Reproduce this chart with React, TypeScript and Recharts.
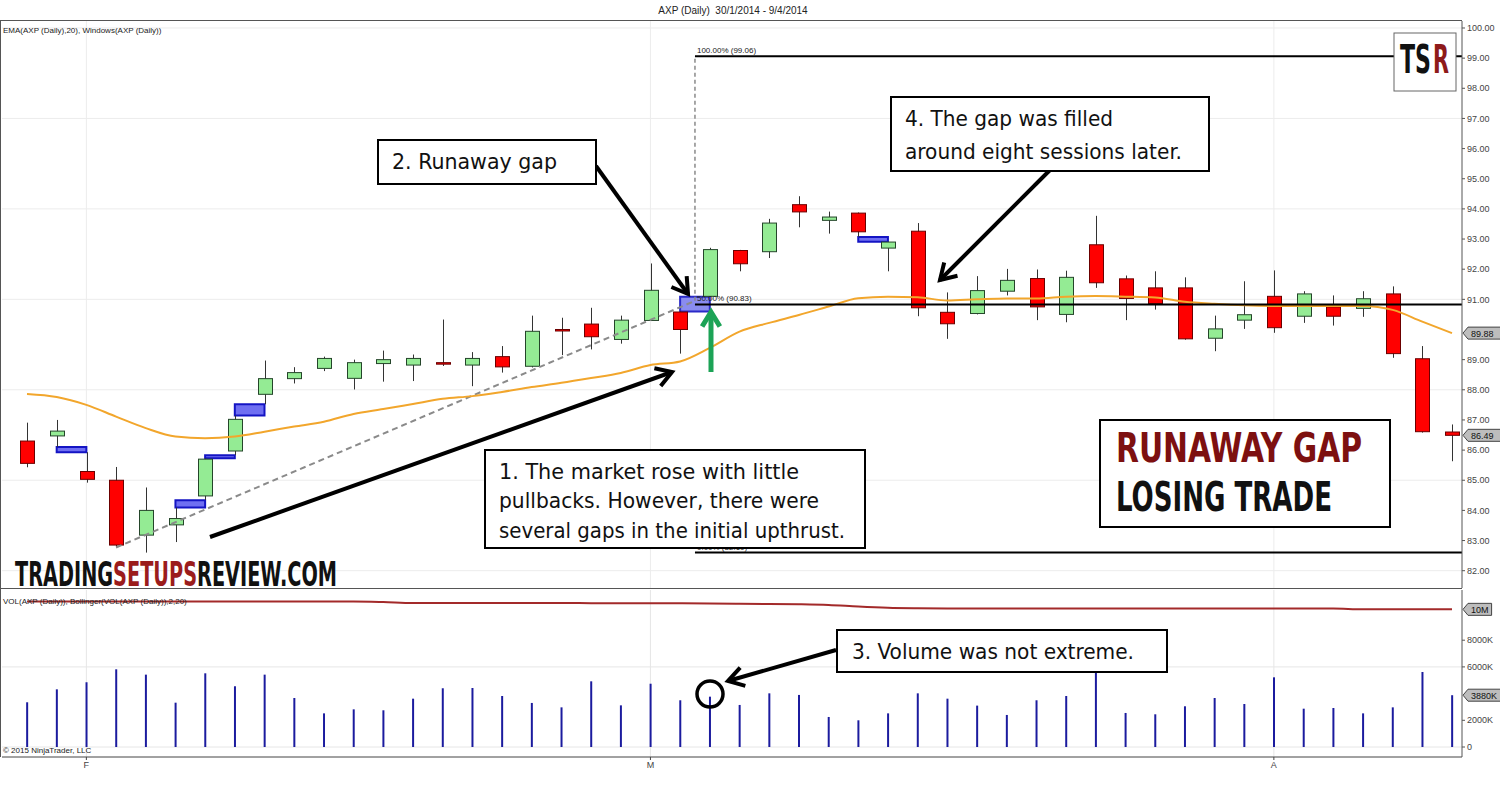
import React from 'react';
import { ComposedChart, Bar, Line, XAxis, YAxis, ReferenceLine, ReferenceArea, CartesianGrid } from 'recharts';

// trading days 30/1/2014 - 9/4/2014
const dates = [
  '30/1', '31/1',
  '3/2', '4/2', '5/2', '6/2', '7/2', '10/2', '11/2', '12/2', '13/2', '14/2',
  '18/2', '19/2', '20/2', '21/2', '24/2', '25/2', '26/2', '27/2', '28/2',
  '3/3', '4/3', '5/3', '6/3', '7/3', '10/3', '11/3', '12/3', '13/3', '14/3',
  '17/3', '18/3', '19/3', '20/3', '21/3', '24/3', '25/3', '26/3', '27/3', '28/3', '31/3',
  '1/4', '2/4', '3/4', '4/4', '7/4', '8/4', '9/4',
];

const opens = [
  86.30, 86.47, 85.29, 85.00, 83.18, 83.52, 84.48, 85.97, 87.85, 88.37,
  88.71, 88.38, 88.87, 88.82, 88.90, 88.82, 89.10, 88.78, 90.00, 90.18,
  89.67, 90.30, 90.58, 91.10, 92.62, 92.58, 94.14, 93.62, 93.86, 92.70,
  93.26, 90.57, 90.53, 91.27, 91.69, 90.50, 92.81, 91.68, 91.38, 91.38,
  89.71, 90.31, 91.10, 90.44, 90.75, 90.70, 91.18, 89.03, 86.60,
];
const highs = [
  86.91, 87.00, 85.93, 85.44, 84.76, 84.10, 85.73, 87.15, 88.97, 88.75,
  89.10, 89.00, 89.30, 89.17, 90.33, 89.25, 89.45, 90.46, 90.39, 90.72,
  90.46, 92.19, 90.60, 92.71, 92.64, 93.67, 94.42, 93.91, 93.88, 92.91,
  93.53, 91.23, 91.77, 92.01, 91.99, 91.95, 93.77, 91.79, 91.93, 91.73,
  90.46, 91.60, 91.96, 91.27, 91.13, 91.27, 91.43, 89.45, 86.85,
];
const lows = [
  85.43, 86.10, 84.92, 82.77, 82.60, 82.95, 84.34, 85.83, 87.52, 88.21,
  88.62, 88.01, 88.27, 88.29, 88.79, 88.12, 88.57, 88.74, 89.15, 89.34,
  89.53, 90.28, 89.20, 91.09, 91.93, 92.37, 93.39, 93.18, 93.07, 91.93,
  90.44, 89.69, 90.50, 91.13, 90.31, 90.24, 91.38, 90.31, 90.66, 89.66,
  89.28, 90.02, 89.89, 90.22, 90.13, 90.42, 89.06, 86.58, 85.63,
];
const closes = [
  85.56, 86.63, 85.03, 82.85, 84.00, 83.73, 85.70, 87.02, 88.37, 88.57,
  89.04, 88.90, 89.00, 89.04, 88.87, 89.04, 88.76, 89.94, 89.96, 89.76,
  90.31, 91.30, 90.00, 92.65, 92.18, 93.53, 93.90, 93.73, 93.24, 92.90,
  90.72, 90.19, 91.29, 91.63, 90.75, 91.73, 91.55, 91.03, 90.86, 89.69,
  90.02, 90.49, 90.06, 91.18, 90.44, 91.02, 89.20, 86.61, 86.49,
];
const ema20 = [
  87.86, 87.76, 87.50, 87.11, 86.73, 86.45, 86.39, 86.45, 86.61, 86.78,
  86.94, 87.20, 87.36, 87.53, 87.70, 87.79, 87.93, 88.09, 88.23, 88.39,
  88.56, 88.82, 88.94, 89.39, 89.93, 90.22, 90.48, 90.76, 91.04, 91.09,
  91.07, 90.96, 91.00, 91.03, 91.03, 91.09, 91.11, 91.09, 91.06, 90.92,
  90.85, 90.80, 90.78, 90.78, 90.78, 90.78, 90.65, 90.26, 89.88,
];
const volumeK = [
  3350, 4320, 4850, 5820, 5420, 3320, 5520, 4550, 5420, 3670,
  2520, 2820, 2750, 3620, 4400, 4420, 3820, 3300, 2970, 4920,
  3120, 4740, 3500, 3770, 3150, 4020, 3900, 2250, 2000, 2520,
  4020, 3620, 3100, 2400, 3500, 3820, 5640, 2550, 2450, 3050,
  3670, 3220, 5220, 2870, 2920, 2520, 2970, 5620, 3880,
];
const bollingerUpperK = [
  10900, 10900, 10900, 10900, 10900, 10900, 10900, 10900, 10900, 10900,
  10900, 10900, 10860, 10790, 10790, 10790, 10790, 10790, 10790, 10770,
  10760, 10760, 10760, 10750, 10730, 10710, 10690, 10640, 10520, 10430,
  10390, 10370, 10370, 10370, 10370, 10370, 10370, 10370, 10370, 10370,
  10370, 10370, 10370, 10370, 10370, 10310, 10310, 10310, 10310,
];

const priceTicks = [82, 83, 84, 85, 86, 87, 88, 89, 91, 92, 93, 94, 95, 96, 97, 98, 99, 100];
const priceGrid = [82, 85, 88, 91, 94, 97, 100];
const volumeTicks = [0, 2000, 6000, 8000];
const volumeGrid = [0, 6000];
const monthStarts = ['3/2', '3/3', '1/4'];
const monthLabels = ['F', 'M', 'A'];
const gapDays = ['3/2', '7/2', '10/2', '11/2', '5/3', '13/3'];
const runawayGapDay = '5/3';
const swingLowDay = '4/2';
const fibLevels = [
  { label: '100.00%', value: 99.06 },
  { label: '50.00%', value: 90.83 },
  { label: '0.00%', value: 82.6 },
];

const rows = dates.map((date, i) => ({
  x: i,
  date,
  open: opens[i],
  high: highs[i],
  low: lows[i],
  close: closes[i],
  ema: ema20[i],
  vol: volumeK[i],
  bb: bollingerUpperK[i],
}));

const monthIdx = monthStarts.map((d) => dates.indexOf(d));
const gaps = gapDays.map((d) => {
  const i = dates.indexOf(d);
  const up = lows[i] > highs[i - 1];
  return {
    from: i - 1,
    to: i,
    lo: up ? highs[i - 1] : highs[i],
    hi: up ? lows[i] : lows[i - 1],
    hot: d === runawayGapDay,
  };
});
const swingIdx = dates.indexOf(swingLowDay);
const fibAnchorX = dates.indexOf(runawayGapDay) - 0.5;

const X_DOMAIN: [number, number] = [-0.842, 48.337];
const PRICE_DOMAIN: [number, number] = [81.426, 100.232];
const VOL_DOMAIN: [number, number] = [-749, 11760];
const FONT = "'Liberation Sans', Arial, sans-serif";
const NARROW = "'Liberation Sans Narrow', 'DejaVu Sans Condensed', 'Liberation Sans', sans-serif";

const fmtK = (v: number) => (v >= 10000 ? `${Math.round(v / 1000)}M` : v === 0 ? '0' : `${Math.round(v)}K`);

const Candle = (props: any) => {
  const { x, y, width, height, payload } = props;
  if (x == null || !payload) return null;
  const { open, close, high, low } = payload;
  const top0 = Math.min(y, y + height);
  const h = Math.abs(height);
  const k = h / (high - low);
  const py = (v: number) => top0 + (high - v) * k;
  const cx = Math.round(x + width / 2) + 0.5;
  const up = close >= open;
  const bt = py(Math.max(open, close));
  const bb = py(Math.min(open, close));
  return (
    <g>
      <line x1={cx} x2={cx} y1={top0} y2={top0 + h} stroke="#333" strokeWidth={1} />
      <rect
        x={cx - 7}
        y={bt}
        width={14}
        height={Math.max(bb - bt, 1.5)}
        fill={up ? '#94eb94' : '#ff0000'}
        stroke={up ? '#24452a' : '#6b0000'}
        strokeWidth={1}
      />
    </g>
  );
};

const Flag = ({ viewBox, text }: any) => {
  if (!viewBox) return null;
  const ax = viewBox.x + viewBox.width;
  const y = viewBox.y;
  const w = text.length * 5.2 + 8;
  return (
    <g>
      <polygon
        points={`${ax + 1},${y} ${ax + 6},${y - 6} ${ax + 6 + w},${y - 6} ${ax + 6 + w},${y + 6} ${ax + 6},${y + 6}`}
        fill="#bdbdbd"
        stroke="#444"
        strokeWidth={1}
      />
      <text x={ax + 9} y={y + 3.5} fontSize={9} fill="#111" fontFamily={FONT}>
        {text}
      </text>
    </g>
  );
};

const FibLabel = ({ viewBox, text }: any) => {
  if (!viewBox) return null;
  return (
    <text x={viewBox.x + 2} y={viewBox.y - 3} fontSize={8} fill="#222" fontFamily={FONT}>
      {text}
    </text>
  );
};

const Arrow = ({ x1, y1, x2, y2, color = '#000', w = 4, head = 18 }: any) => {
  const a = Math.atan2(y2 - y1, x2 - x1);
  const s = 0.55;
  const h1x = x2 - head * Math.cos(a - s);
  const h1y = y2 - head * Math.sin(a - s);
  const h2x = x2 - head * Math.cos(a + s);
  const h2y = y2 - head * Math.sin(a + s);
  return (
    <g stroke={color} strokeWidth={w} fill="none" strokeLinecap="butt">
      <line x1={x1} y1={y1} x2={x2} y2={y2} />
      <polyline points={`${h1x},${h1y} ${x2},${y2} ${h2x},${h2y}`} strokeLinejoin="miter" />
    </g>
  );
};

const NoteBox = ({ x, y, w, h, lines }: any) => (
  <g>
    <rect x={x} y={y} width={w} height={h} fill="#fff" stroke="#000" strokeWidth={2} />
    {lines.map((l: any, i: number) => (
      <text
        key={i}
        x={l.x}
        y={l.y}
        fontSize={21}
        fill="#111"
        fontFamily={NARROW}
        textLength={l.len}
        lengthAdjust="spacingAndGlyphs"
      >
        {l.t}
      </text>
    ))}
  </g>
);

// condensed display text: stretched vertically so its natural width stays near the target width
const Display = ({ x, y, size, sy, len, children, fill = '#111' }: any) => (
  <g transform={`translate(${x},${y}) scale(1,${sy})`}>
    <text x={0} y={0} fontSize={size} fill={fill} fontFamily={NARROW} fontWeight={700} textLength={len} lengthAdjust="spacingAndGlyphs">
      {children}
    </text>
  </g>
);

const axisTick = { fontSize: 9, fill: '#444', fontFamily: FONT };

export default function App() {
  const last = rows[rows.length - 1];
  return (
    <div style={{ position: 'absolute', left: 0, top: 0, width: 1500, height: 793, background: '#fff', overflow: 'hidden' }}>
      <div style={{ position: 'absolute', left: 0, top: 0 }}>
        <ComposedChart width={1500} height={589} data={rows} margin={{ top: 21, right: 0, bottom: 1, left: 2 }}>
          <CartesianGrid stroke="#ececec" horizontalValues={priceGrid} verticalValues={monthIdx} />
          <XAxis type="number" dataKey="x" domain={X_DOMAIN} allowDataOverflow hide />
          <YAxis
            orientation="right"
            width={38}
            domain={PRICE_DOMAIN}
            allowDataOverflow
            ticks={priceTicks}
            interval={0}
            tickFormatter={(v: number) => v.toFixed(2)}
            tick={axisTick}
            tickSize={3}
            tickLine={{ stroke: '#555' }}
            axisLine={{ stroke: '#555' }}
          />
          <ReferenceLine
            segment={[{ x: swingIdx, y: lows[swingIdx] }, { x: fibAnchorX, y: 90.95 }]}
            stroke="#8a8a8a"
            strokeWidth={2}
            strokeDasharray="6 4"
          />
          <ReferenceLine
            segment={[{ x: fibAnchorX, y: 90.95 }, { x: fibAnchorX, y: fibLevels[0].value }]}
            stroke="#8a8a8a"
            strokeWidth={1.5}
            strokeDasharray="4 3"
          />
          <Bar dataKey={(d: any) => [d.low, d.high]} shape={(p: any) => <Candle {...p} />} barSize={14} isAnimationActive={false} />
          <Line dataKey="ema" type="monotone" stroke="#f2a62c" strokeWidth={2} dot={false} isAnimationActive={false} />
          {fibLevels.map((f) => (
            <ReferenceLine
              key={f.label}
              segment={[{ x: fibAnchorX, y: f.value }, { x: X_DOMAIN[1], y: f.value }]}
              stroke="#000"
              strokeWidth={2}
              label={(p: any) => <FibLabel {...p} text={`${f.label} (${f.value.toFixed(2)})`} />}
            />
          ))}
          {gaps.map((g) => (
            <ReferenceArea
              key={g.to}
              x1={g.from}
              x2={g.to}
              y1={g.lo}
              y2={g.hi}
              fill={g.hot ? '#8a8cf0' : '#6f6ff2'}
              fillOpacity={1}
              stroke={g.hot ? '#2a2ac8' : '#1414c4'}
              strokeWidth={2}
            />
          ))}
          <ReferenceLine y={last.ema} stroke="none" label={(p: any) => <Flag {...p} text={last.ema.toFixed(2)} />} />
          <ReferenceLine y={last.close} stroke="none" label={(p: any) => <Flag {...p} text={last.close.toFixed(2)} />} />
        </ComposedChart>
      </div>

      <div style={{ position: 'absolute', left: 0, top: 588 }}>
        <ComposedChart width={1500} height={205} data={rows} margin={{ top: 2, right: 0, bottom: 0, left: 2 }}>
          <CartesianGrid stroke="#e6e6e6" horizontalValues={volumeGrid} verticalValues={monthIdx} />
          <XAxis
            type="number"
            dataKey="x"
            domain={X_DOMAIN}
            allowDataOverflow
            ticks={monthIdx}
            interval={0}
            tickFormatter={(v: number) => monthLabels[monthIdx.indexOf(v)]}
            height={36}
            tickSize={3}
            tick={axisTick}
            tickLine={{ stroke: '#444' }}
            axisLine={{ stroke: '#444' }}
          />
          <YAxis
            orientation="right"
            width={38}
            domain={VOL_DOMAIN}
            allowDataOverflow
            ticks={volumeTicks}
            interval={0}
            tickFormatter={fmtK}
            tick={axisTick}
            tickSize={3}
            tickLine={{ stroke: '#555' }}
            axisLine={{ stroke: '#555' }}
          />
          <Bar dataKey="vol" barSize={2} fill="#1b1b9e" isAnimationActive={false} />
          <Line dataKey="bb" type="monotone" stroke="#a32a2a" strokeWidth={2} dot={false} isAnimationActive={false} />
          <ReferenceLine y={last.bb} stroke="none" label={(p: any) => <Flag {...p} text={fmtK(last.bb)} />} />
          <ReferenceLine y={last.vol} stroke="none" label={(p: any) => <Flag {...p} text={fmtK(last.vol)} />} />
        </ComposedChart>
      </div>

      <svg width={1500} height={793} style={{ position: 'absolute', left: 0, top: 0, pointerEvents: 'none' }}>
        <line x1={0.5} y1={20.5} x2={0.5} y2={757} stroke="#555" />
        <line x1={0} y1={20.5} x2={1462} y2={20.5} stroke="#555" />
        <line x1={0} y1={588.5} x2={1462} y2={588.5} stroke="#555" />
        <text x={733} y={14} fontSize={10} fill="#222" fontFamily={FONT} textAnchor="middle" style={{ whiteSpace: 'pre' }}>
          {'AXP (Daily)  30/1/2014 - 9/4/2014'}
        </text>
        <text x={3} y={33} fontSize={8} fill="#222" fontFamily={FONT}>
          EMA(AXP (Daily),20), Windows(AXP (Daily))
        </text>
        <text x={3} y={604} fontSize={8} fill="#222" fontFamily={FONT}>
          VOL(AXP (Daily)), Bollinger(VOL(AXP (Daily)),2,20)
        </text>
        <text x={3} y={753} fontSize={8} fill="#222" fontFamily={FONT}>
          © 2015 NinjaTrader, LLC
        </text>

        <Arrow x1={210} y1={537} x2={672} y2={372} />
        <Arrow x1={596} y1={166} x2={688} y2={294} />
        <Arrow x1={1050} y1={170} x2={940} y2={280} />
        <Arrow x1={836} y1={650} x2={728} y2={681} />
        <Arrow x1={711} y1={372} x2={711} y2={312} color="#1ca356" w={5} head={17} />
        <circle cx={710} cy={694} r={13} fill="none" stroke="#000" strokeWidth={3.5} />

        <NoteBox x={378} y={140} w={218} h={44} lines={[{ t: '2. Runaway gap', x: 392, y: 169, len: 165 }]} />
        <NoteBox
          x={891}
          y={97}
          w={318}
          h={74}
          lines={[
            { t: '4. The gap was filled', x: 905, y: 126, len: 208 },
            { t: 'around eight sessions later.', x: 905, y: 159, len: 277 },
          ]}
        />
        <NoteBox
          x={485}
          y={450}
          w={380}
          h={98}
          lines={[
            { t: '1. The market rose with little', x: 499, y: 479, len: 300 },
            { t: 'pullbacks.  However, there were', x: 499, y: 508, len: 320 },
            { t: 'several gaps in the initial upthrust.', x: 499, y: 538, len: 346 },
          ]}
        />
        <NoteBox x={837} y={630} w={330} h={42} lines={[{ t: '3. Volume was not extreme.', x: 852, y: 659, len: 282 }]} />

        <rect x={1394} y={33} width={62} height={58} fill="#fff" stroke="#666" strokeWidth={1} />
        <Display x={1400} y={73} size={25} sy={1.57} len={31}>
          TS
        </Display>
        <Display x={1433} y={73} size={25} sy={1.57} len={16} fill="#8e1a1a">
          R
        </Display>

        <rect x={1100} y={420} width={290} height={107} fill="#fff" stroke="#000" strokeWidth={2} />
        <Display x={1116} y={462} size={30} sy={1.36} len={246} fill="#7d1010">
          RUNAWAY GAP
        </Display>
        <Display x={1116} y={511} size={30} sy={1.36} len={216}>
          LOSING TRADE
        </Display>

        <Display x={15} y={586} size={22} sy={1.5} len={322}>
          <tspan fill="#111">TRADING</tspan>
          <tspan fill="#9b1c1c">SETUPS</tspan>
          <tspan fill="#111">REVIEW.COM</tspan>
        </Display>
      </svg>
    </div>
  );
}
